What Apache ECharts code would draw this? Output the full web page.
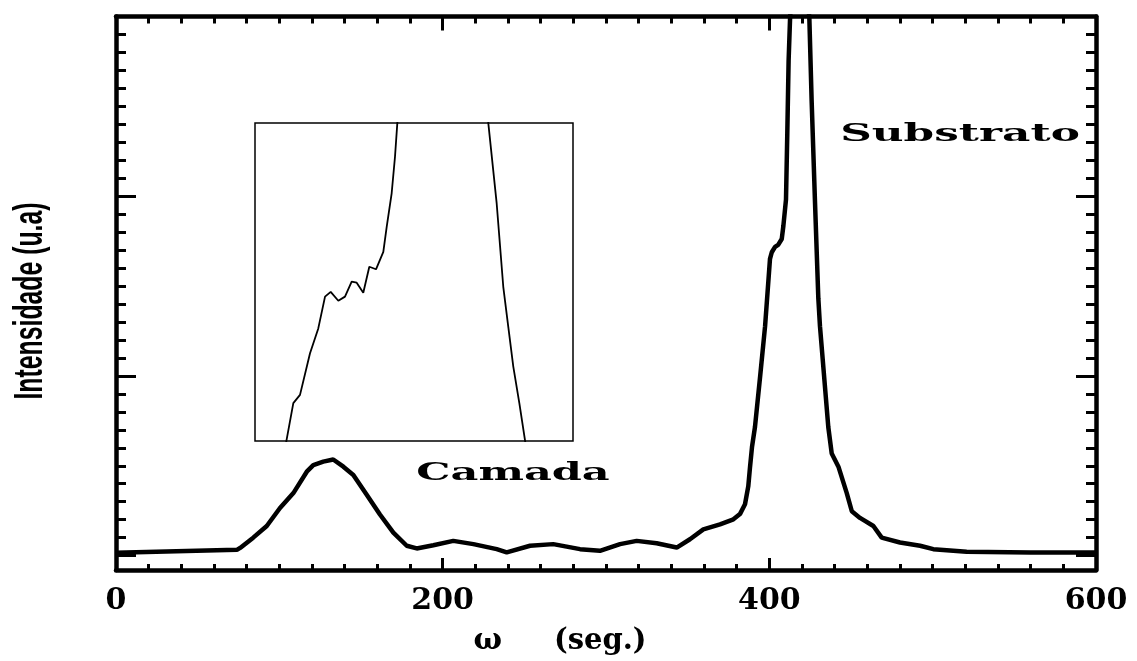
<!DOCTYPE html>
<html>
<head>
<meta charset="utf-8">
<script src="https://cdn.jsdelivr.net/npm/echarts@6/dist/echarts.min.js"></script>
<style>
  html, body { margin: 0; padding: 0; background: #fff; }
  #chart { width: 1137px; height: 661px; }
</style>
</head>
<body>
<div id="chart"></div>
<script>
// Rocking curve: intensity versus omega (arc-seconds), layer peak and substrate peak
const omega = [
  0, 74, 76, 84, 92.3, 100.4, 108.6, 116.8, 120.8, 126.9,
  133.0, 139.2, 145.3, 153.5, 161.6, 169.8, 178.0, 184.1, 194.3, 206.5,
  218.8, 233.1, 239.2, 253.5, 267.7, 284.1, 296.3, 308.6, 318.8, 331.0,
  343.3, 351.4, 359.6, 369.8, 378.0, 382.0, 385.1, 387.1, 388.2, 389.4,
  391.2, 394.3, 397.4, 400.4, 401.5, 403.5, 405.4, 407.6, 408.6, 410.2,
  411.0, 411.8, 412.7, 418.0, 424.5, 425.9, 427.9, 430.0, 431.0, 436.1,
  438.2, 442.3, 447.4, 450.5, 455.5, 463.7, 468.8, 480.0, 492.3, 500.4,
  520.8, 560, 600
];
const intensity = [
  0.016, 0.032, 0.043, 0.10, 0.165, 0.265, 0.348, 0.467, 0.504, 0.523,
  0.535, 0.495, 0.449, 0.339, 0.229, 0.128, 0.055, 0.040, 0.058, 0.082,
  0.064, 0.036, 0.018, 0.055, 0.064, 0.036, 0.027, 0.064, 0.082, 0.069,
  0.045, 0.091, 0.146, 0.174, 0.202, 0.231, 0.286, 0.385, 0.495, 0.605,
  0.715, 0.991, 1.277, 1.651, 1.688, 1.718, 1.729, 1.762, 1.835, 1.982,
  2.351, 2.753, 2.991, 3.7, 2.991, 2.532, 1.982, 1.431, 1.277, 0.715,
  0.568, 0.495, 0.348, 0.247, 0.210, 0.165, 0.100, 0.073, 0.055, 0.036,
  0.021, 0.018, 0.018
];

// Detail of the substrate peak flanks (inset)
const insetOmega = [
  398.8, 399.82, 400.66, 401.92, 402.96, 403.81, 404.52, 405.48, 406.32, 407.16,
  407.79, 408.62, 409.38, 410.22, 411.14, 411.57, 412.19, 412.61, 412.90, 413.1,
  418.5, 424.2, 424.35, 425.40, 426.23, 426.86, 427.49, 428.25, 429.1
];
const insetIntensity = [
  -2, 11.9, 14.5, 27.6, 35.4, 45.4, 46.9, 44.1, 45.4, 50.1,
  49.8, 46.6, 54.8, 54.0, 59.5, 67.4, 77.9, 89.4, 99.9, 106,
  200, 106, 99.9, 74.7, 48.5, 35.9, 23.4, 11.9, -2
];

// Axis ranges and ticks
const xMin = 0, xMax = 600, xStep = 200, xMinorSplit = 10;
const yMin = -0.08, yMax = 3.0;
const yMajorTicks = [0, 1, 2];
const yMinorTicks = [];
for (let i = 1; i < 30; i++) { if (i % 10 !== 0) yMinorTicks.push(i / 10); }

const labelFont = '"DejaVu Serif", "Liberation Serif", serif';

const mainData = omega.map((x, i) => [x, intensity[i]]);
const insetData = insetOmega.map((x, i) => [x, insetIntensity[i]]);

const axisLineStyle = { color: '#000', width: 4.5 };

function yTickAxis(position, values, len, showLine) {
  return {
    type: 'value', gridIndex: 0, position: position,
    min: yMin, max: yMax,
    axisLine: { show: showLine, onZero: false, lineStyle: axisLineStyle },
    axisTick: { show: true, inside: true, length: len, customValues: values,
                lineStyle: { color: '#000', width: 3 } },
    axisLabel: { show: false },
    splitLine: { show: false }
  };
}

const option = {
  animation: false,
  backgroundColor: '#fff',
  grid: [
    { left: 116, right: 41, top: 16.5, bottom: 85.5, show: false },
    { left: 255, top: 123, width: 318, height: 318, show: true,
      borderColor: '#000', borderWidth: 1.5, backgroundColor: 'transparent' }
  ],
  xAxis: [
    {
      type: 'value', gridIndex: 0, position: 'bottom',
      min: xMin, max: xMax, interval: xStep,
      name: '{w|ω}{s|(seg.)}',
      nameLocation: 'middle', nameGap: 56,
      nameTextStyle: {
        padding: [0, 92, 0, 0],
        rich: {
          w: { fontFamily: labelFont, fontWeight: 'bold', fontSize: 30, color: '#000', padding: [0, 52, 0, 0] },
          s: { fontFamily: labelFont, fontWeight: 'bold', fontSize: 29, color: '#000' }
        }
      },
      axisLine: { show: true, onZero: false, lineStyle: axisLineStyle },
      axisTick: { show: true, inside: true, length: 12, lineStyle: { color: '#000', width: 3 } },
      minorTick: { show: true, splitNumber: xMinorSplit, length: 6, lineStyle: { color: '#000', width: 3 } },
      axisLabel: { show: true, margin: 16, color: '#000', fontFamily: labelFont,
                   fontWeight: 'bold', fontSize: 30 },
      splitLine: { show: false }
    },
    {
      type: 'value', gridIndex: 0, position: 'top',
      min: xMin, max: xMax, interval: xStep,
      axisLine: { show: true, onZero: false, lineStyle: axisLineStyle },
      axisTick: { show: true, inside: true, length: 14, lineStyle: { color: '#000', width: 3 } },
      minorTick: { show: true, splitNumber: xMinorSplit, length: 7, lineStyle: { color: '#000', width: 3 } },
      axisLabel: { show: false },
      splitLine: { show: false }
    },
    {
      type: 'value', gridIndex: 1, min: 395, max: 435, show: false
    }
  ],
  yAxis: [
    yTickAxis('left', yMajorTicks, 20, true),
    yTickAxis('left', yMinorTicks, 10, false),
    yTickAxis('right', yMajorTicks, 20, true),
    yTickAxis('right', yMinorTicks, 10, false),
    { type: 'value', gridIndex: 1, min: 0, max: 100, show: false }
  ],
  series: [
    {
      type: 'line', xAxisIndex: 0, yAxisIndex: 0,
      data: mainData, showSymbol: false, clip: true,
      lineStyle: { color: '#000', width: 4.5 },
      emphasis: { disabled: true }
    },
    {
      type: 'line', xAxisIndex: 2, yAxisIndex: 4,
      data: insetData, showSymbol: false, clip: true,
      lineStyle: { color: '#000', width: 1.8 },
      emphasis: { disabled: true }
    }
  ],
  graphic: [
    {
      type: 'text', x: 31, y: 301, rotation: Math.PI / 2, scaleX: 0.62,
      style: { text: 'Intensidade (u.a)', fill: '#000',
               font: 'bold 40px "Liberation Sans", Arial, sans-serif',
               align: 'center', verticalAlign: 'middle',
               textAlign: 'center', textVerticalAlign: 'middle' }
    },
    {
      type: 'text', x: 960, y: 134, scaleX: 1.75,
      style: { text: 'Substrato', fill: '#000',
               font: 'bold 25px "DejaVu Serif", serif',
               align: 'center', verticalAlign: 'middle',
               textAlign: 'center', textVerticalAlign: 'middle' }
    },
    {
      type: 'text', x: 513, y: 473, scaleX: 1.72,
      style: { text: 'Camada', fill: '#000',
               font: 'bold 25px "DejaVu Serif", serif',
               align: 'center', verticalAlign: 'middle',
               textAlign: 'center', textVerticalAlign: 'middle' }
    }
  ]
};

const chart = echarts.init(document.getElementById('chart'), null, { renderer: 'canvas' });
chart.setOption(option);
</script>
</body>
</html>
